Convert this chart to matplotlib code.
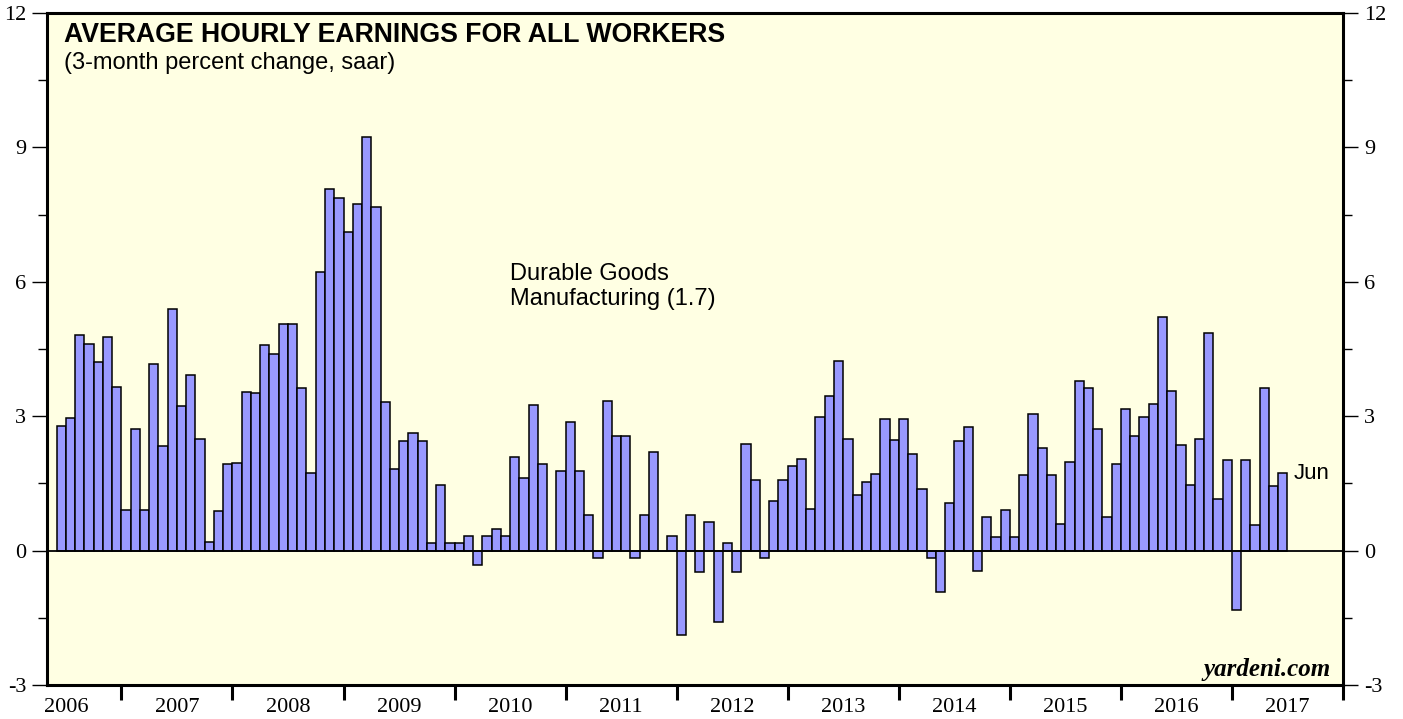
import numpy as np
import matplotlib
matplotlib.use("Agg")
import matplotlib.pyplot as plt
from matplotlib.ticker import MultipleLocator, FixedLocator, FixedFormatter, NullFormatter

# monthly values, Jun 2006 .. Jun 2017 (3-month % change, saar)
start_year = 2006
start_month = 6
vals_2006 = [2.78, 2.95, 4.82, 4.61, 4.21, 4.77, 3.65]
vals_2007 = [0.91, 2.72, 0.91, 4.16, 2.34, 5.40, 3.23, 3.93, 2.49, 0.19, 0.89, 1.94]
vals_2008 = [1.96, 3.54, 3.52, 4.59, 4.38, 5.05, 5.05, 3.64, 1.73, 6.21, 8.07, 7.88]
vals_2009 = [7.12, 7.74, 9.24, 7.67, 3.31, 1.82, 2.45, 2.62, 2.45, 0.16, 1.46, 0.16]
vals_2010 = [0.16, 0.32, -0.33, 0.32, 0.48, 0.32, 2.10, 1.61, 3.24, 1.93, 0.0, 1.77]
vals_2011 = [2.88, 1.77, 0.80, -0.16, 3.35, 2.55, 2.55, -0.16, 0.80, 2.21, 0.0, 0.32]
vals_2012 = [-1.89, 0.79, -0.48, 0.63, -1.59, 0.16, -0.48, 2.38, 1.57, -0.16, 1.10, 1.57]
vals_2013 = [1.89, 2.05, 0.93, 2.99, 3.45, 4.23, 2.50, 1.24, 1.54, 1.70, 2.94, 2.47]
vals_2014 = [2.94, 2.15, 1.38, -0.16, -0.93, 1.07, 2.45, 2.76, -0.46, 0.75, 0.30, 0.91]
vals_2015 = [0.30, 1.68, 3.04, 2.28, 1.68, 0.60, 1.97, 3.79, 3.63, 2.72, 0.74, 1.94]
vals_2016 = [3.16, 2.55, 2.98, 3.27, 5.21, 3.56, 2.36, 1.46, 2.50, 4.85, 1.16, 2.03]
vals_2017 = [-1.32, 2.03, 0.57, 3.63, 1.44, 1.74]

years = list(range(2006, 2018))
year_labels = [str(y) for y in years]

values = (vals_2006 + vals_2007 + vals_2008 + vals_2009 + vals_2010 + vals_2011
          + vals_2012 + vals_2013 + vals_2014 + vals_2015 + vals_2016 + vals_2017)
values = np.array(values)
# decimal year of each month start
xs = start_year + (start_month - 1) / 12 + np.arange(len(values)) / 12

plt.rcParams["axes.unicode_minus"] = False

fig = plt.figure(figsize=(14.03, 7.19), dpi=100)
ax = fig.add_axes([47 / 1403, 1 - 685 / 719, 1296 / 1403, 672 / 719])
ax.set_facecolor("#ffffe3")

ax.bar(xs, values, width=1 / 12, align="edge", color="#9999ff",
       edgecolor="black", linewidth=1.1, zorder=2)
ax.axhline(0, color="black", linewidth=1.3, zorder=3)

ax.set_xlim(2006.33, 2018.0)
ax.set_ylim(-3, 12)

for s in ax.spines.values():
    s.set_linewidth(2.2)

# y axis, both sides
ax.yaxis.set_major_locator(MultipleLocator(3))
ax.yaxis.set_minor_locator(MultipleLocator(1.5))
ax.tick_params(axis="y", which="major", direction="out", length=11, width=1,
               left=True, right=True, labelleft=True, labelright=True, pad=4)
ax.tick_params(axis="y", which="minor", direction="out", length=6.5, width=1,
               left=True, right=True)

# x axis: ticks on year boundaries, labels mid-year
ax.xaxis.set_major_locator(FixedLocator([y + 1 for y in years]))
ax.xaxis.set_major_formatter(NullFormatter())
ax.xaxis.set_minor_locator(FixedLocator([y + 0.5 for y in years]))
ax.xaxis.set_minor_formatter(FixedFormatter(year_labels))
ax.tick_params(axis="x", which="major", direction="out", length=11, width=2.2)
ax.tick_params(axis="x", which="minor", length=0, pad=9)

for lab in ax.get_xticklabels(minor=True):
    lab.set_fontfamily("Liberation Serif")
    lab.set_fontsize(16)
for lab in ax.yaxis.get_ticklabels(which="both"):
    lab.set_fontfamily("Liberation Serif")
    lab.set_fontsize(16)

ax.text(0.0131, 0.968, "AVERAGE HOURLY EARNINGS FOR ALL WORKERS", transform=ax.transAxes,
        fontfamily="Liberation Sans", fontweight="bold", fontsize=19.2, va="center", ha="left")
ax.text(0.0131, 0.9256, "(3-month percent change, saar)", transform=ax.transAxes,
        fontfamily="Liberation Sans", fontsize=17, va="center", ha="left")
ax.text(0.357, 0.628, "Durable Goods\nManufacturing (1.7)", transform=ax.transAxes,
        fontfamily="Liberation Sans", fontsize=17, va="top", ha="left", linespacing=1.15)
ax.text(0.962, 0.314, "Jun", transform=ax.transAxes,
        fontfamily="Liberation Sans", fontsize=16, va="center", ha="left")
ax.text(0.9907, 0.0225, "yardeni.com", transform=ax.transAxes,
        fontfamily="Liberation Serif", fontweight="bold", fontstyle="italic",
        fontsize=18, va="center", ha="right")

fig.savefig("out.png", dpi=100)
